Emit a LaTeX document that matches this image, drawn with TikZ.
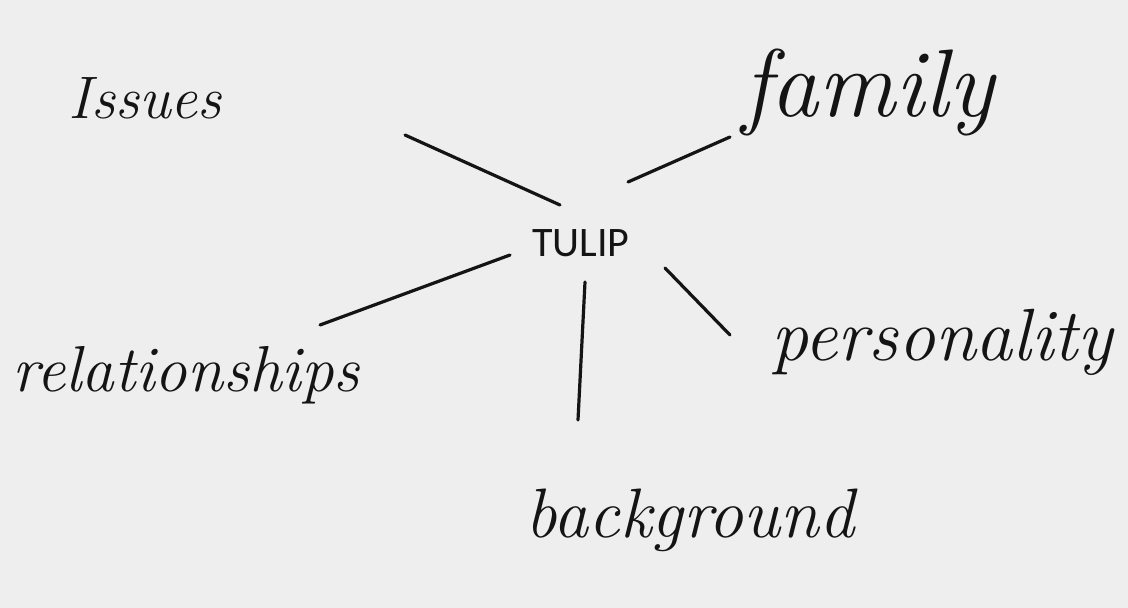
\documentclass[tikz,border=0pt]{standalone}
\usepackage{fontspec}
\newfontfamily\tulipfont{Carlito}
\definecolor{paper}{RGB}{238,238,238}
\definecolor{ink}{RGB}{20,20,20}
\tikzset{
  hand/.style={inner sep=0pt, text=ink, font=\itshape},
  stroke/.style={draw=ink, line width=3.2pt, line cap=round}
}
\begin{document}
\begin{tikzpicture}[x=1pt,y=-1pt]
\fill[paper] (0,0) rectangle (1128,608);
\useasboundingbox (0,0) rectangle (1128,608);
\node[inner sep=0pt, text=ink, font=\tulipfont\fontsize{42}{46}\selectfont] (tulip) at (581,243) {TULIP};
\node[hand, font=\itshape\fontsize{60}{66}\selectfont] (issues) at (145,98) {Issues};
\node[hand, font=\itshape\fontsize{96}{100}\selectfont] (family) at (868,92) {family};
\node[hand, font=\itshape\fontsize{65}{70}\selectfont] (rel) at (186,375) {relationships};
\node[hand, font=\itshape\fontsize{74}{80}\selectfont] (pers) at (942,342) {personality};
\node[hand, font=\itshape\fontsize{70}{76}\selectfont] (back) at (690,520) {background};
\coordinate (a1) at (405,135); \coordinate (a2) at (560,205);
\coordinate (b1) at (628,182); \coordinate (b2) at (730,137);
\coordinate (c1) at (320,325); \coordinate (c2) at (510,255);
\coordinate (d1) at (585,282); \coordinate (d2) at (578,420);
\coordinate (e1) at (665,268); \coordinate (e2) at (730,335);
\draw[stroke] (a2) -- (a1);
\draw[stroke] (b1) -- (b2);
\draw[stroke] (c2) -- (c1);
\draw[stroke] (d1) -- (d2);
\draw[stroke] (e1) -- (e2);
\end{tikzpicture}
\end{document}
